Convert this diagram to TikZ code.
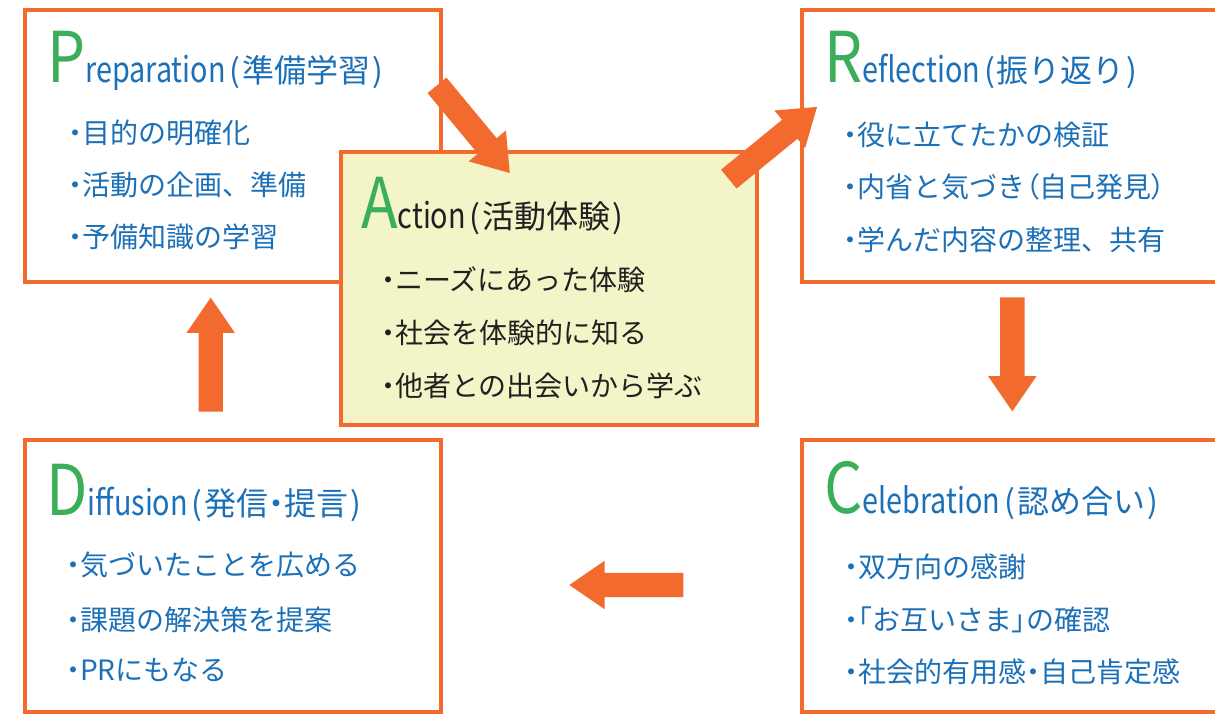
\documentclass[tikz,border=0pt]{standalone}
\usepackage{fontspec}
\setmainfont{Noto Sans CJK JP}
\newfontfamily\jpp[RawFeature=+palt]{Noto Sans CJK JP}
\usetikzlibrary{shapes.arrows}
\definecolor{orng}{RGB}{242,106,46}
\definecolor{txtblue}{RGB}{28,112,184}
\definecolor{lgreen}{RGB}{58,174,88}
\definecolor{actfill}{RGB}{243,245,200}
\definecolor{darktxt}{RGB}{35,31,32}
\newcommand{\bigltr}[1]{{\fontsize{70}{70}\selectfont\color{lgreen}\scalebox{0.86}[1]{#1}}}
\newcommand{\restt}[2]{{\fontsize{32}{32}\selectfont\scalebox{0.9}[1.1]{#1}\hspace{4pt}(\hspace{2pt}#2\hspace{2pt})}}
\newcommand{\bul}{{\jpp ・}}
\begin{document}
\begin{tikzpicture}[x=1pt,y=-1pt,
  box/.style={draw=orng, line width=4pt, fill=white, minimum width=416pt, minimum height=272pt, inner sep=0pt},
  title/.style={anchor=base west, inner sep=0pt},
  item/.style={anchor=west, inner sep=0pt, font=\fontsize{28}{28}\selectfont},
  barrow/.style={single arrow, fill=orng, draw=none, minimum height=114pt, minimum width=48pt,
    single arrow head extend=12pt, single arrow tip angle=69, inner xsep=0pt, inner ysep=12pt, anchor=tip}]
\clip (0,0) rectangle (1215,715);
\fill[white] (0,0) rectangle (1215,715);

% boxes
\node[box] (P) at (233,146) {};
\node[box] (R) at (1010,146) {};
\node[box] (C) at (1010,576) {};
\node[box] (D) at (233,576) {};
\node[box, fill=actfill, minimum height=273pt] (A) at (549,288.5) {};

% Preparation
\node[title, text=txtblue] (Pt) at (47,82) {\bigltr{P}\restt{reparation}{準備学習}};
\node[item, text=txtblue] (P1) at (68,133) {\bul 目的の明確化};
\node[item, text=txtblue] (P2) at (68,185) {\bul 活動の企画、準備};
\node[item, text=txtblue] (P3) at (68,237) {\bul 予備知識の学習};

% Action
\node[title, text=darktxt] (At) at (361,228) {\bigltr{A}\restt{ction}{活動体験}};
\node[item, text=darktxt] (A1) at (381,280) {\bul ニーズにあった体験};
\node[item, text=darktxt] (A2) at (381,333) {\bul 社会を体験的に知る};
\node[item, text=darktxt] (A3) at (381,386) {\bul 他者との出会いから学ぶ};

% Reflection
\node[title, text=txtblue] (Rt) at (824,82) {\bigltr{R}\restt{eflection}{振り返り}};
\node[item, text=txtblue] (R1) at (843,135) {\bul 役に立てたかの検証};
\node[item, text=txtblue] (R2) at (843,187) {\bul 内省と気づき{\jpp（}自己発見{\jpp）}};
\node[item, text=txtblue] (R3) at (843,240) {\bul 学んだ内容の整理、共有};

% Celebration
\node[title, text=txtblue] (Ct) at (824,513) {\bigltr{C}\restt{elebration}{認め合い}};
\node[item, text=txtblue] (C1) at (844,567) {\bul 双方向の感謝};
\node[item, text=txtblue] (C2) at (844,620) {\bul {\jpp 「}お互いさま{\jpp 」}の確認};
\node[item, text=txtblue] (C3) at (844,672) {\bul 社会的有用感{\jpp ・}自己肯定感};

% Diffusion
\node[title, text=txtblue] (Dt) at (46,515) {\bigltr{D}\restt{iffusion}{発信{\jpp ・}提言}};
\node[item, text=txtblue] (D1) at (66,565) {\bul 気づいたことを広める};
\node[item, text=txtblue] (D2) at (66,620) {\bul 課題の解決策を提案};
\node[item, text=txtblue] (D3) at (66,670) {\bul PRにもなる};

% block arrows (placed by their tips)
\node[barrow, rotate=-50.3] (aPA) at (510,173.3) {};
\node[barrow, rotate=39.3] (aAR) at (817.3,106.7) {};
\node[barrow, rotate=-90] (aRC) at (1012.3,411.7) {};
\node[barrow, rotate=180] (aCD) at (569,585) {};
\node[barrow, rotate=90] (aDP) at (210.7,297.3) {};
\end{tikzpicture}
\end{document}
